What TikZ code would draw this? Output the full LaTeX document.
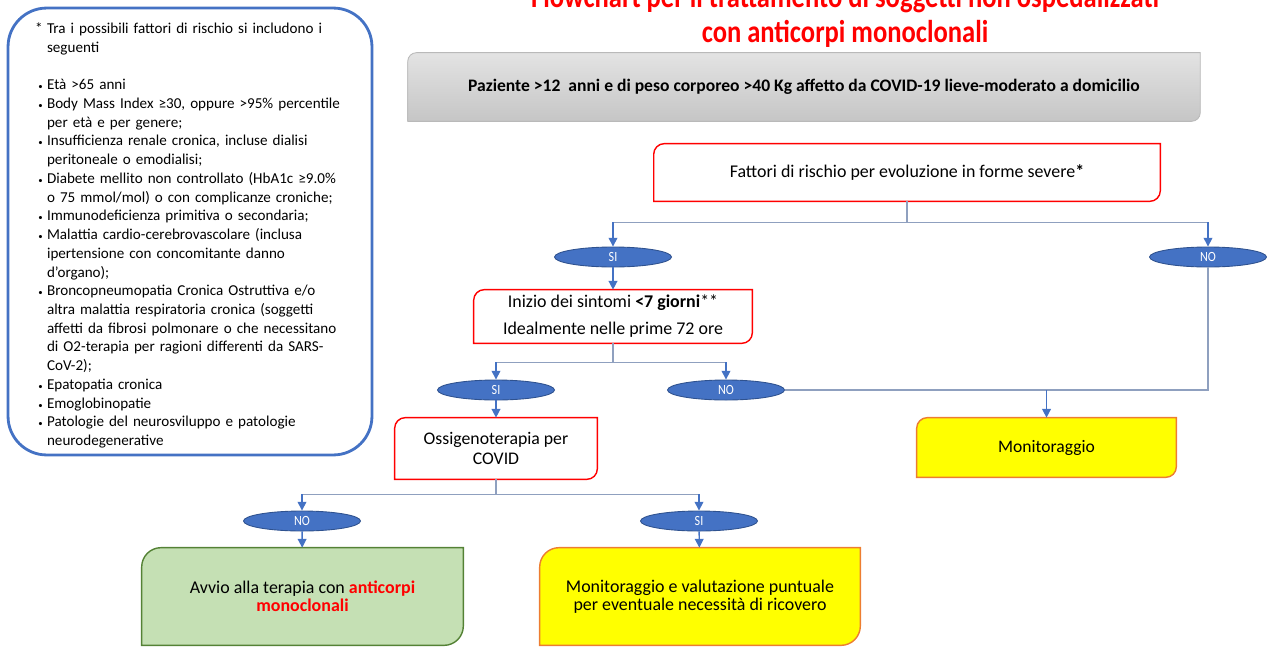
\documentclass[tikz,border=0pt]{standalone}
\usepackage{fontspec}
\setmainfont{Carlito}
\newfontfamily\narrowfont{Carlito}[FakeStretch=0.86]
\newfontfamily\titlefont{Carlito}[FakeStretch=0.84]
\usepackage{enumitem}
\usetikzlibrary{shapes.geometric, arrows.meta, backgrounds, calc}
\definecolor{ppt-blue}{HTML}{4472C4}
\definecolor{ppt-darkblue}{HTML}{2F528F}
\definecolor{link-gray}{HTML}{8FA0BF}
\definecolor{ppt-green}{HTML}{C5E0B4}
\definecolor{ppt-darkgreen}{HTML}{548235}
\definecolor{ppt-orange}{HTML}{ED7D31}
\definecolor{ppt-yellow}{HTML}{FFFF00}
\definecolor{ppt-red}{HTML}{FF0000}
% box with two rounded corners (top left, bottom right)
\newcommand{\diagframe}[3][6pt]{%
  \draw[#3] (#2.south west) -- ([yshift=-#1]#2.north west)
     arc[start angle=180, end angle=90, radius=#1] -- (#2.north east)
     -- ([yshift=#1]#2.south east)
     arc[start angle=0, end angle=-90, radius=#1] -- cycle;}
\tikzset{
    answer/.style = {ellipse, fill=ppt-blue, draw=ppt-darkblue, line width=0.5pt,
        minimum width=2.34cm, minimum height=0.4cm, inner sep=0pt,
        text=white, font=\narrowfont\fontsize{8}{8}\selectfont},
    box/.style = {draw=none, align=center, inner sep=0pt},
    redbox/.style = {draw=ppt-red, fill=white, line width=0.8pt},
    yellowbox/.style = {draw=ppt-orange, fill=ppt-yellow, line width=0.8pt},
    link/.style = {draw=link-gray, line width=0.7pt},
    arrowlink/.style = {draw=ppt-blue, line width=0.8pt, -{Triangle[length=5pt,width=5pt]}},
}

\begin{document}
\begin{tikzpicture}[x=0.02cm,y=-0.02cm]
\useasboundingbox (0,0) rectangle (1267,646);
\clip (0,0) rectangle (1267,646);

% list of risk factors
\node[draw=ppt-blue, line width=1.6pt, rounded corners=22pt,
      minimum width=7.28cm, minimum height=8.94cm, text width=6.12cm, inner sep=0pt,
      font=\fontsize{8.6}{10.66}\selectfont] (risk) at (190,231.5) {%
  \raggedright
  \begin{itemize}[label={\tiny\textbullet}, leftmargin=5.7pt, labelsep=2.5pt,
                  itemsep=0pt, topsep=0pt, parsep=0pt, partopsep=0pt]
  \item[*] Tra i possibili fattori di rischio si includono i\newline seguenti
  \item[] \mbox{}
  \item Età >65 anni
  \item Body Mass Index ≥30, oppure >95\% percentile\newline per età e per genere;
  \item Insufficienza renale cronica, incluse dialisi\newline peritoneale o emodialisi;
  \item Diabete mellito non controllato (HbA1c ≥9.0\%\newline o 75 mmol/mol) o con complicanze croniche;
  \item Immunodeficienza primitiva o secondaria;
  \item Malattia cardio-cerebrovascolare (inclusa\newline ipertensione con concomitante danno\newline d’organo);
  \item Broncopneumopatia Cronica Ostruttiva e/o\newline altra malattia respiratoria cronica (soggetti\newline affetti da fibrosi polmonare o che necessitano\newline di O2-terapia per ragioni differenti da SARS-\newline CoV-2);
  \item Epatopatia cronica
  \item Emoglobinopatie
  \item Patologie del neurosviluppo e patologie\newline neurodegenerative
  \end{itemize}\par\vspace{3pt}};

% title
\node[align=center, text=ppt-red, anchor=base, font=\titlefont\bfseries\fontsize{18}{19.8}\selectfont]
    (title) at (845,42) {Flowchart per il trattamento di soggetti non ospedalizzati\\con anticorpi monoclonali};

% boxes
\node[box, minimum width=15.84cm, minimum height=1.36cm, font=\bfseries\fontsize{10}{12}\selectfont]
    (patient) at (804,87) {Paziente >12\ \ anni e di peso corporeo >40 Kg affetto da COVID-19 lieve-moderato a domicilio};
\node[box, minimum width=10.12cm, minimum height=1.14cm, font=\fontsize{10.2}{12}\selectfont]
    (severe) at (907,172.5) {Fattori di rischio per evoluzione in forme severe\textbf{*}};
\node[box, minimum width=5.56cm, minimum height=1.06cm, font=\fontsize{10.2}{15.3}\selectfont]
    (onset) at (613,316.5) {Inizio dei sintomi \textbf{<7 giorni}**\\Idealmente nelle prime 72 ore};
\node[box, minimum width=4.04cm, minimum height=1.22cm, font=\fontsize{10.1}{11.5}\selectfont]
    (oxygen) at (496,448.5) {Ossigenoterapia per\\COVID};
\node[box, minimum width=5.18cm, minimum height=1.18cm, font=\fontsize{10}{12}\selectfont]
    (monitor) at (1046.5,447.5) {Monitoraggio};
\node[box, minimum width=6.42cm, minimum height=1.94cm, font=\fontsize{10.2}{10.5}\selectfont]
    (therapy) at (302.5,596.5) {Avvio alla terapia con {\color{ppt-red}\bfseries anticorpi}\\{\color{ppt-red}\bfseries monoclonali}};
\node[box, minimum width=6.4cm, minimum height=1.94cm, font=\fontsize{10.2}{10.5}\selectfont]
    (followup) at (700,596.5) {Monitoraggio e valutazione puntuale\\per eventuale necessità di ricovero};

% answers
\node[answer] (si1) at (613,257) {SI};
\node[answer] (no1) at (1208,257) {NO};
\node[answer] (si2) at (496,390) {SI};
\node[answer] (no2) at (726,390) {NO};
\node[answer] (no3) at (302,521) {NO};
\node[answer] (si3) at (699,521) {SI};

\begin{scope}[on background layer]
    \diagframe[5pt]{patient}{draw=gray!55, line width=0.5pt, top color=gray!22, bottom color=gray!45}
    \diagframe{severe}{redbox}
    \diagframe{onset}{redbox}
    \diagframe{oxygen}{redbox}
    \diagframe{monitor}{yellowbox}
    \diagframe[11pt]{therapy}{draw=ppt-darkgreen, fill=ppt-green, line width=0.8pt}
    \diagframe[11pt]{followup}{yellowbox}
\end{scope}

% connectors
\draw[link] (severe.south) -- ++(0,21) coordinate (split1);
\draw[link] (si1 |- split1) -- (no1 |- split1);
\draw[arrowlink] (si1 |- split1) -- (si1);
\draw[arrowlink] (no1 |- split1) -- (no1);
\draw[arrowlink] (si1) -- (onset);

\draw[link] (onset.south) -- ++(0,19) coordinate (split2);
\draw[link] (si2 |- split2) -- (no2 |- split2);
\draw[arrowlink] (si2 |- split2) -- (si2);
\draw[arrowlink] (no2 |- split2) -- (no2);
\draw[arrowlink] (si2) -- (oxygen);

\draw[link] (no1) |- (no2);
\draw[arrowlink] (monitor |- no2) -- (monitor);

\draw[link] (oxygen.south) -- ++(0,15) coordinate (split3);
\draw[link] (no3 |- split3) -- (si3 |- split3);
\draw[arrowlink] (no3 |- split3) -- (no3);
\draw[arrowlink] (si3 |- split3) -- (si3);
\draw[arrowlink] (no3) -- (therapy);
\draw[arrowlink] (si3) -- (followup);

\end{tikzpicture}
\end{document}
